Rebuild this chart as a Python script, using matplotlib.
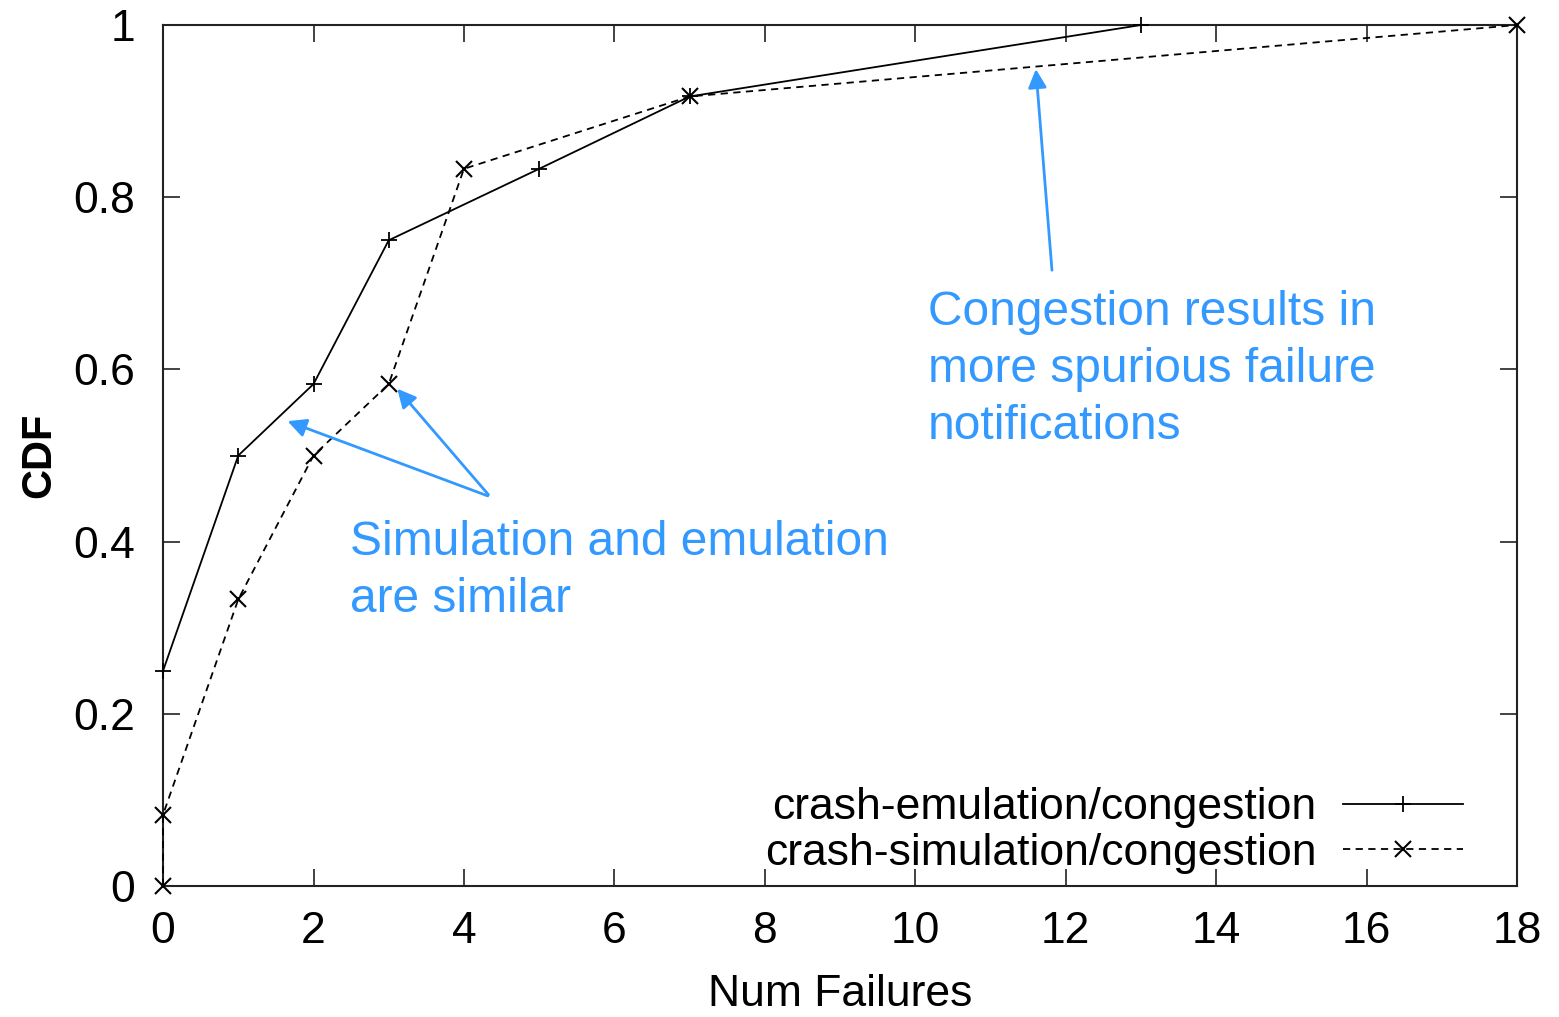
import matplotlib
matplotlib.use("Agg")
import matplotlib.pyplot as plt

plt.rcParams['font.family'] = ['Liberation Sans', 'DejaVu Sans']

# crash-emulation/congestion
emu_x = [0, 1, 2, 3, 5, 7, 13]
emu_y = [0.25, 0.5, 0.583, 0.75, 0.833, 0.917, 1.0]
# crash-simulation/congestion
sim_x = [0, 0, 1, 2, 3, 4, 7, 18]
sim_y = [0.0, 0.083, 0.333, 0.5, 0.583, 0.833, 0.917, 1.0]

blue = '#3399ff'

fig = plt.figure(figsize=(15.59, 10.17), dpi=100)
ax = fig.add_axes([0.1046, 0.1288, 0.8685, 0.8466])

ax.plot(emu_x, emu_y, color='black', lw=1.3, marker='+', ms=12, mew=1.3,
        label='crash-emulation/congestion', clip_on=False, zorder=3)
ax.plot(sim_x, sim_y, color='black', lw=1.3, ls=(0, (4, 3)), marker='x', ms=11,
        mew=1.5, label='crash-simulation/congestion', clip_on=False, zorder=3)

ax.set_xlim(0, 18)
ax.set_ylim(0, 1)
ax.set_xticks(range(0, 19, 2))
ax.set_yticks([0, 0.2, 0.4, 0.6, 0.8, 1])
ax.set_yticklabels(['0', '0.2', '0.4', '0.6', '0.8', '1'])
ax.tick_params(direction='in', length=12, width=1.2, top=True, right=True,
               labelsize=32, color='#222222')
ax.tick_params(axis='x', pad=18)
ax.tick_params(axis='y', pad=20)
for s in ax.spines.values():
    s.set_linewidth(1.5)
    s.set_color('#222222')

ax.set_xlabel('Num Failures', fontsize=32, labelpad=16)
ax.set_ylabel('CDF', fontsize=30, fontweight='bold', labelpad=10)

leg = ax.legend(loc='lower right', bbox_to_anchor=(0.983, -0.022), frameon=False,
                markerfirst=False, fontsize=32, handlelength=2.7,
                handletextpad=0.6, labelspacing=0.1, borderpad=0.2)

# annotations
ax.text(2.49, 0.366, 'Simulation and emulation\nare similar', color=blue,
        fontsize=34.5, ha='left', va='center', linespacing=1.35)
arrow = dict(arrowstyle='-|>', color=blue, lw=2, mutation_scale=28)
ax.annotate('', xy=(1.62, 0.541), xytext=(4.35, 0.452), arrowprops=arrow)
ax.annotate('', xy=(3.09, 0.580), xytext=(4.35, 0.452), arrowprops=arrow)

ax.text(10.17, 0.600, 'Congestion results in\nmore spurious failure\nnotifications',
        color=blue, fontsize=34.5, ha='left', va='center', linespacing=1.35)
ax.annotate('', xy=(11.6, 0.952), xytext=(11.82, 0.712), arrowprops=arrow)

fig.savefig('out.png', dpi=100)
